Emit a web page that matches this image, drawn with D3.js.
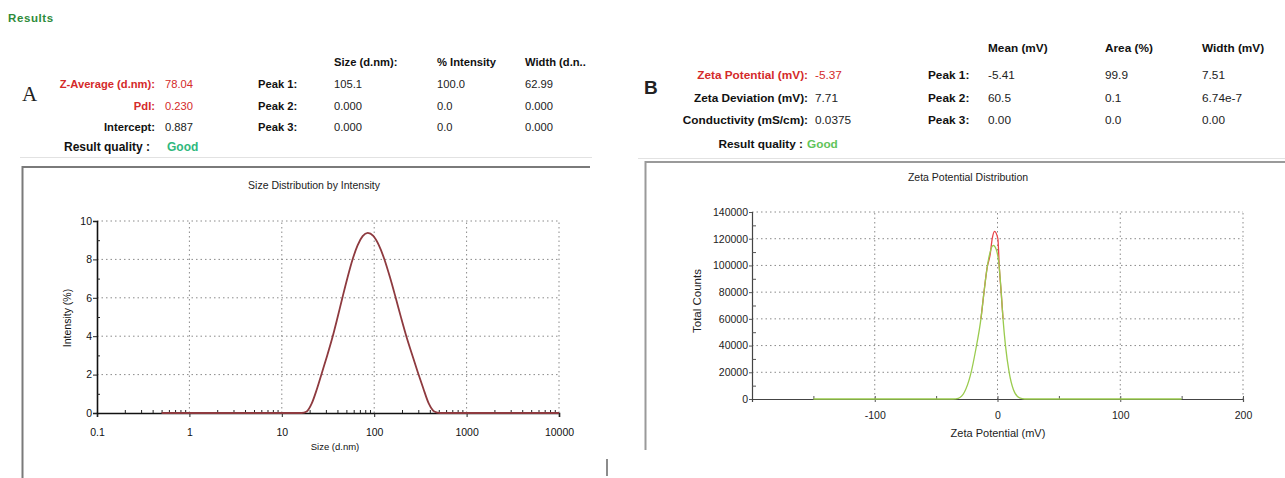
<!DOCTYPE html>
<html><head><meta charset="utf-8">
<script src="https://cdn.jsdelivr.net/npm/d3@7"></script>
<style>
html,body{margin:0;padding:0;background:#fff;}
svg{display:block;font-family:"Liberation Sans",Arial,sans-serif;}
</style></head>
<body>
<svg id="c" width="1285" height="478"></svg>
<script>
// ---------- Data ----------
// Panel A: size distribution by intensity
const sizeNm = [0.5, 10, 16.4, 18.6, 21.1, 24.0, 27.2, 30.9, 35.1, 39.8, 45.2, 51.3, 58.2, 66.1, 75.0,
  85.1, 97.7, 112.2, 128.8, 147.9, 169.8, 195.0, 223.9, 257.0, 295.1, 338.8, 389.0, 446.7, 512.9, 1000, 10000];
const intensityPct = [0, 0, 0, 0.08, 0.5, 1.25, 2.1, 2.97, 3.89, 4.91, 5.99, 7.03, 7.98, 8.73, 9.21,
  9.38, 9.22, 8.74, 8.01, 7.08, 6.05, 4.98, 3.96, 3.05, 2.15, 1.3, 0.5, 0.08, 0, 0, 0];
const sizeXTicks = [0.1, 1, 10, 100, 1000, 10000];
const sizeYTicks = [0, 2, 4, 6, 8, 10];

// Panel B: zeta potential distribution (two runs)
const zetaGreenMv = [-150, -36, -32, -27, -22, -17.5, -13.5, -11, -8.5, -6, -3.5, -1, 1.5, 3, 4.5, 6.5, 9.5, 13, 18, 22, 150];
const zetaGreenCounts = [0, 0, 500, 5000, 18000, 38000, 60000, 80000, 98000, 110000, 115000, 112000, 98000, 80000, 60000, 40000, 20000, 7000, 800, 0, 0];
const zetaRedMv = [-13.5, -11, -8.5, -6, -4.3, -2.4, 0.3, 1.5, 3, 4.5];
const zetaRedCounts = [60000, 80000, 98000, 108000, 120000, 125500, 120000, 98000, 80000, 60000];
const zetaXTicks = [-100, 0, 100, 200];
const zetaXMinor = [-150, -50, 50, 150];
const zetaYTicks = [0, 20000, 40000, 60000, 80000, 100000, 120000, 140000];

// Summary tables
const aLabels = ["Z-Average (d.nm):", "PdI:", "Intercept:"];
const aValues = ["78.04", "0.230", "0.887"];
const aHeaders = ["Size (d.nm):", "% Intensity", "Width (d.n.."];
const aPeakRows = [["105.1", "100.0", "62.99"], ["0.000", "0.0", "0.000"], ["0.000", "0.0", "0.000"]];
const bLabels = ["Zeta Potential (mV):", "Zeta Deviation (mV):", "Conductivity (mS/cm):"];
const bValues = ["-5.37", "7.71", "0.0375"];
const bHeaders = ["Mean (mV)", "Area (%)", "Width (mV)"];
const bPeakRows = [["-5.41", "99.9", "7.51"], ["60.5", "0.1", "6.74e-7"], ["0.00", "0.0", "0.00"]];
const peakNames = ["Peak 1:", "Peak 2:", "Peak 3:"];

// ---------- Drawing ----------
const svg = d3.select("#c");
const RED = "#d42a2a", GOOD = "#2fb87d";
const FA = 11.2, FB = 11.8;

// Header
svg.append("text").attr("x", 8).attr("y", 22).attr("font-size", 11.5).attr("font-weight", "bold")
  .attr("letter-spacing", 0.6).attr("fill", "#2e8b3a").text("Results");

// ---- Panel A info ----
svg.append("text").attr("x", 22).attr("y", 101).attr("font-family", "Liberation Serif, serif")
  .attr("font-size", 21).attr("fill", "#222").text("A");
const aRowY = [88, 110, 131];
aLabels.forEach((t, i) => {
  svg.append("text").attr("x", 155).attr("y", aRowY[i]).attr("text-anchor", "end")
    .attr("font-size", FA).attr("font-weight", "bold").attr("fill", i < 2 ? RED : "#111").text(t);
  svg.append("text").attr("x", 165).attr("y", aRowY[i]).attr("font-size", FA)
    .attr("fill", i < 2 ? RED : "#222").text(aValues[i]);
});
svg.append("text").attr("x", 150).attr("y", 151).attr("text-anchor", "end").attr("font-size", 12)
  .attr("font-weight", "bold").attr("fill", "#111").text("Result quality :");
svg.append("text").attr("x", 167).attr("y", 151).attr("font-size", 12).attr("font-weight", "bold")
  .attr("fill", GOOD).text("Good");
const aColX = [334, 437, 525];
aHeaders.forEach((t, j) => svg.append("text").attr("x", aColX[j]).attr("y", 66).attr("font-size", FA)
  .attr("font-weight", "bold").attr("fill", "#111").text(t));
peakNames.forEach((p, i) => {
  svg.append("text").attr("x", 258).attr("y", aRowY[i]).attr("font-size", FA).attr("font-weight", "bold")
    .attr("fill", "#111").text(p);
  aPeakRows[i].forEach((v, j) => svg.append("text").attr("x", aColX[j]).attr("y", aRowY[i])
    .attr("font-size", FA).attr("fill", "#222").text(v));
});
svg.append("line").attr("x1", 20).attr("x2", 592).attr("y1", 157.5).attr("y2", 157.5).attr("stroke", "#e2e2e2");

// ---- Panel B info ----
svg.append("text").attr("x", 644).attr("y", 94).attr("font-size", 19).attr("font-weight", "bold")
  .attr("fill", "#222").text("B");
const bRowY = [79, 102, 124];
bLabels.forEach((t, i) => {
  svg.append("text").attr("x", 808).attr("y", bRowY[i]).attr("text-anchor", "end")
    .attr("font-size", FB).attr("font-weight", "bold").attr("fill", i === 0 ? RED : "#111").text(t);
  svg.append("text").attr("x", 815).attr("y", bRowY[i]).attr("font-size", FB)
    .attr("fill", i === 0 ? RED : "#222").text(bValues[i]);
});
svg.append("text").attr("x", 803).attr("y", 148).attr("text-anchor", "end").attr("font-size", FB)
  .attr("font-weight", "bold").attr("fill", "#111").text("Result quality :");
svg.append("text").attr("x", 807).attr("y", 148).attr("font-size", FB).attr("font-weight", "bold")
  .attr("fill", "#5fc45a").text("Good");
const bColX = [988, 1105, 1202];
bHeaders.forEach((t, j) => svg.append("text").attr("x", bColX[j]).attr("y", 52).attr("font-size", FB)
  .attr("font-weight", "bold").attr("fill", "#111").text(t));
peakNames.forEach((p, i) => {
  svg.append("text").attr("x", 928).attr("y", bRowY[i]).attr("font-size", FB).attr("font-weight", "bold")
    .attr("fill", "#111").text(p);
  bPeakRows[i].forEach((v, j) => svg.append("text").attr("x", bColX[j]).attr("y", bRowY[i])
    .attr("font-size", FB).attr("fill", "#222").text(v));
});
svg.append("line").attr("x1", 638).attr("x2", 1285).attr("y1", 158.5).attr("y2", 158.5).attr("stroke", "#e2e2e2");

// ---- Frames ----
svg.append("path").attr("d", "M22.5,478 V167 H590").attr("fill", "none").attr("stroke", "#7a7a7a").attr("stroke-width", 2);
svg.append("path").attr("d", "M645.5,450 V162 H1285").attr("fill", "none").attr("stroke", "#9a9a9a").attr("stroke-width", 2);
svg.append("line").attr("x1", 607).attr("x2", 607).attr("y1", 459).attr("y2", 476).attr("stroke", "#666").attr("stroke-width", 1.5);

// ---------- Chart A ----------
const xA = d3.scaleLog().domain([0.1, 10000]).range([97, 559]);
const yA = d3.scaleLinear().domain([0, 10]).range([413, 221]);
const gA = svg.append("g");
const gridStyle = s => s.attr("stroke", "#8a8a8a").attr("stroke-width", 1).attr("stroke-dasharray", "1.5,3");
sizeYTicks.filter(d => d > 0).forEach(d => gridStyle(gA.append("line").attr("x1", xA(0.1)).attr("x2", xA(10000))
  .attr("y1", yA(d)).attr("y2", yA(d))));
sizeXTicks.filter(d => d > 0.1).forEach(d => gridStyle(gA.append("line").attr("x1", xA(d)).attr("x2", xA(d))
  .attr("y1", yA(0)).attr("y2", yA(10))));
gA.append("text").attr("x", 314).attr("y", 189).attr("text-anchor", "middle").attr("font-size", 10.5)
  .attr("fill", "#222").text("Size Distribution by Intensity");

const minorA = [];
for (let e = -1; e < 4; e++) for (let k = 2; k <= 9; k++) minorA.push(k * Math.pow(10, e));
const axA = gA.append("g").attr("transform", `translate(0,${yA(0)})`)
  .call(d3.axisBottom(xA).tickValues(sizeXTicks).tickFormat(d => String(d)).tickSize(4).tickPadding(12));
gA.append("g").attr("transform", `translate(0,${yA(0)})`)
  .call(d3.axisBottom(xA).tickValues(minorA).tickFormat("").tickSize(-3)).select(".domain").remove();
const ayA = gA.append("g").attr("transform", `translate(${xA(0.1)},0)`)
  .call(d3.axisLeft(yA).tickValues(sizeYTicks).tickSize(4).tickPadding(1));
gA.append("g").attr("transform", `translate(${xA(0.1)},0)`)
  .call(d3.axisLeft(yA).tickValues(d3.range(1, 10, 2)).tickFormat("").tickSize(-3)).select(".domain").remove();
[axA, ayA].forEach(a => { a.select(".domain").attr("stroke", "#111").attr("stroke-width", 1.6);
  a.selectAll("text").attr("font-size", 10.5).attr("fill", "#111").attr("font-family", "Liberation Sans, Arial"); });
gA.selectAll(".tick line").attr("stroke", "#222");

const lineA = d3.line().x((d, i) => xA(sizeNm[i])).y(d => yA(d)).curve(d3.curveMonotoneX);
gA.append("path").datum(intensityPct).attr("d", lineA).attr("fill", "none")
  .attr("stroke", "#8e3a3f").attr("stroke-width", 1.8);
gA.append("text").attr("x", 335).attr("y", 450).attr("text-anchor", "middle").attr("font-size", 9.5)
  .attr("fill", "#111").text("Size (d.nm)");
gA.append("text").attr("transform", "translate(71,318) rotate(-90)").attr("text-anchor", "middle")
  .attr("font-size", 10.5).attr("fill", "#111").text("Intensity (%)");

// ---------- Chart B ----------
const xB = d3.scaleLinear().domain([-200, 200]).range([752, 1243]);
const yB = d3.scaleLinear().domain([0, 140000]).range([399, 212]);
const gB = svg.append("g");
zetaYTicks.filter(d => d > 0).forEach(d => gridStyle(gB.append("line").attr("x1", xB(-200)).attr("x2", xB(200))
  .attr("y1", yB(d)).attr("y2", yB(d))));
zetaXTicks.forEach(d => gridStyle(gB.append("line").attr("x1", xB(d)).attr("x2", xB(d))
  .attr("y1", yB(0)).attr("y2", yB(140000))));
gB.append("text").attr("x", 968).attr("y", 181).attr("text-anchor", "middle").attr("font-size", 10.5)
  .attr("fill", "#222").text("Zeta Potential Distribution");

const axB = gB.append("g").attr("transform", `translate(0,${yB(0)})`)
  .call(d3.axisBottom(xB).tickValues(zetaXTicks).tickFormat(d => String(d)).tickSize(3).tickPadding(10));
gB.append("g").attr("transform", `translate(0,${yB(0)})`)
  .call(d3.axisBottom(xB).tickValues(zetaXMinor.concat(zetaXTicks)).tickFormat("").tickSize(-3)).select(".domain").remove();
const ayB = gB.append("g").attr("transform", `translate(${xB(-200)},0)`)
  .call(d3.axisLeft(yB).tickValues(zetaYTicks).tickFormat(d => String(d)).tickSize(3).tickPadding(1));
gB.append("g").attr("transform", `translate(${xB(-200)},0)`)
  .call(d3.axisLeft(yB).tickValues(d3.range(10000, 140000, 20000)).tickFormat("").tickSize(-4)).select(".domain").remove();
[axB, ayB].forEach(a => { a.select(".domain").attr("stroke", "#444").attr("stroke-width", 1.2);
  a.selectAll("text").attr("font-size", 10.5).attr("fill", "#222").attr("font-family", "Liberation Sans, Arial"); });
gB.selectAll(".tick line").attr("stroke", "#555");

const lineRed = d3.line().x((d, i) => xB(zetaRedMv[i])).y(d => yB(d)).curve(d3.curveMonotoneX);
const lineGreen = d3.line().x((d, i) => xB(zetaGreenMv[i])).y(d => yB(d)).curve(d3.curveMonotoneX);
gB.append("path").datum(zetaRedCounts).attr("d", lineRed).attr("fill", "none")
  .attr("stroke", "#e8454a").attr("stroke-width", 1.3);
gB.append("path").datum(zetaGreenCounts).attr("d", lineGreen).attr("fill", "none")
  .attr("stroke", "#9acb4e").attr("stroke-width", 1.3);
gB.append("text").attr("x", 998).attr("y", 437).attr("text-anchor", "middle").attr("font-size", 11)
  .attr("fill", "#222").text("Zeta Potential (mV)");
gB.append("text").attr("transform", "translate(701,301) rotate(-90)").attr("text-anchor", "middle")
  .attr("font-size", 11.5).attr("fill", "#222").text("Total Counts");
</script>
</body></html>
